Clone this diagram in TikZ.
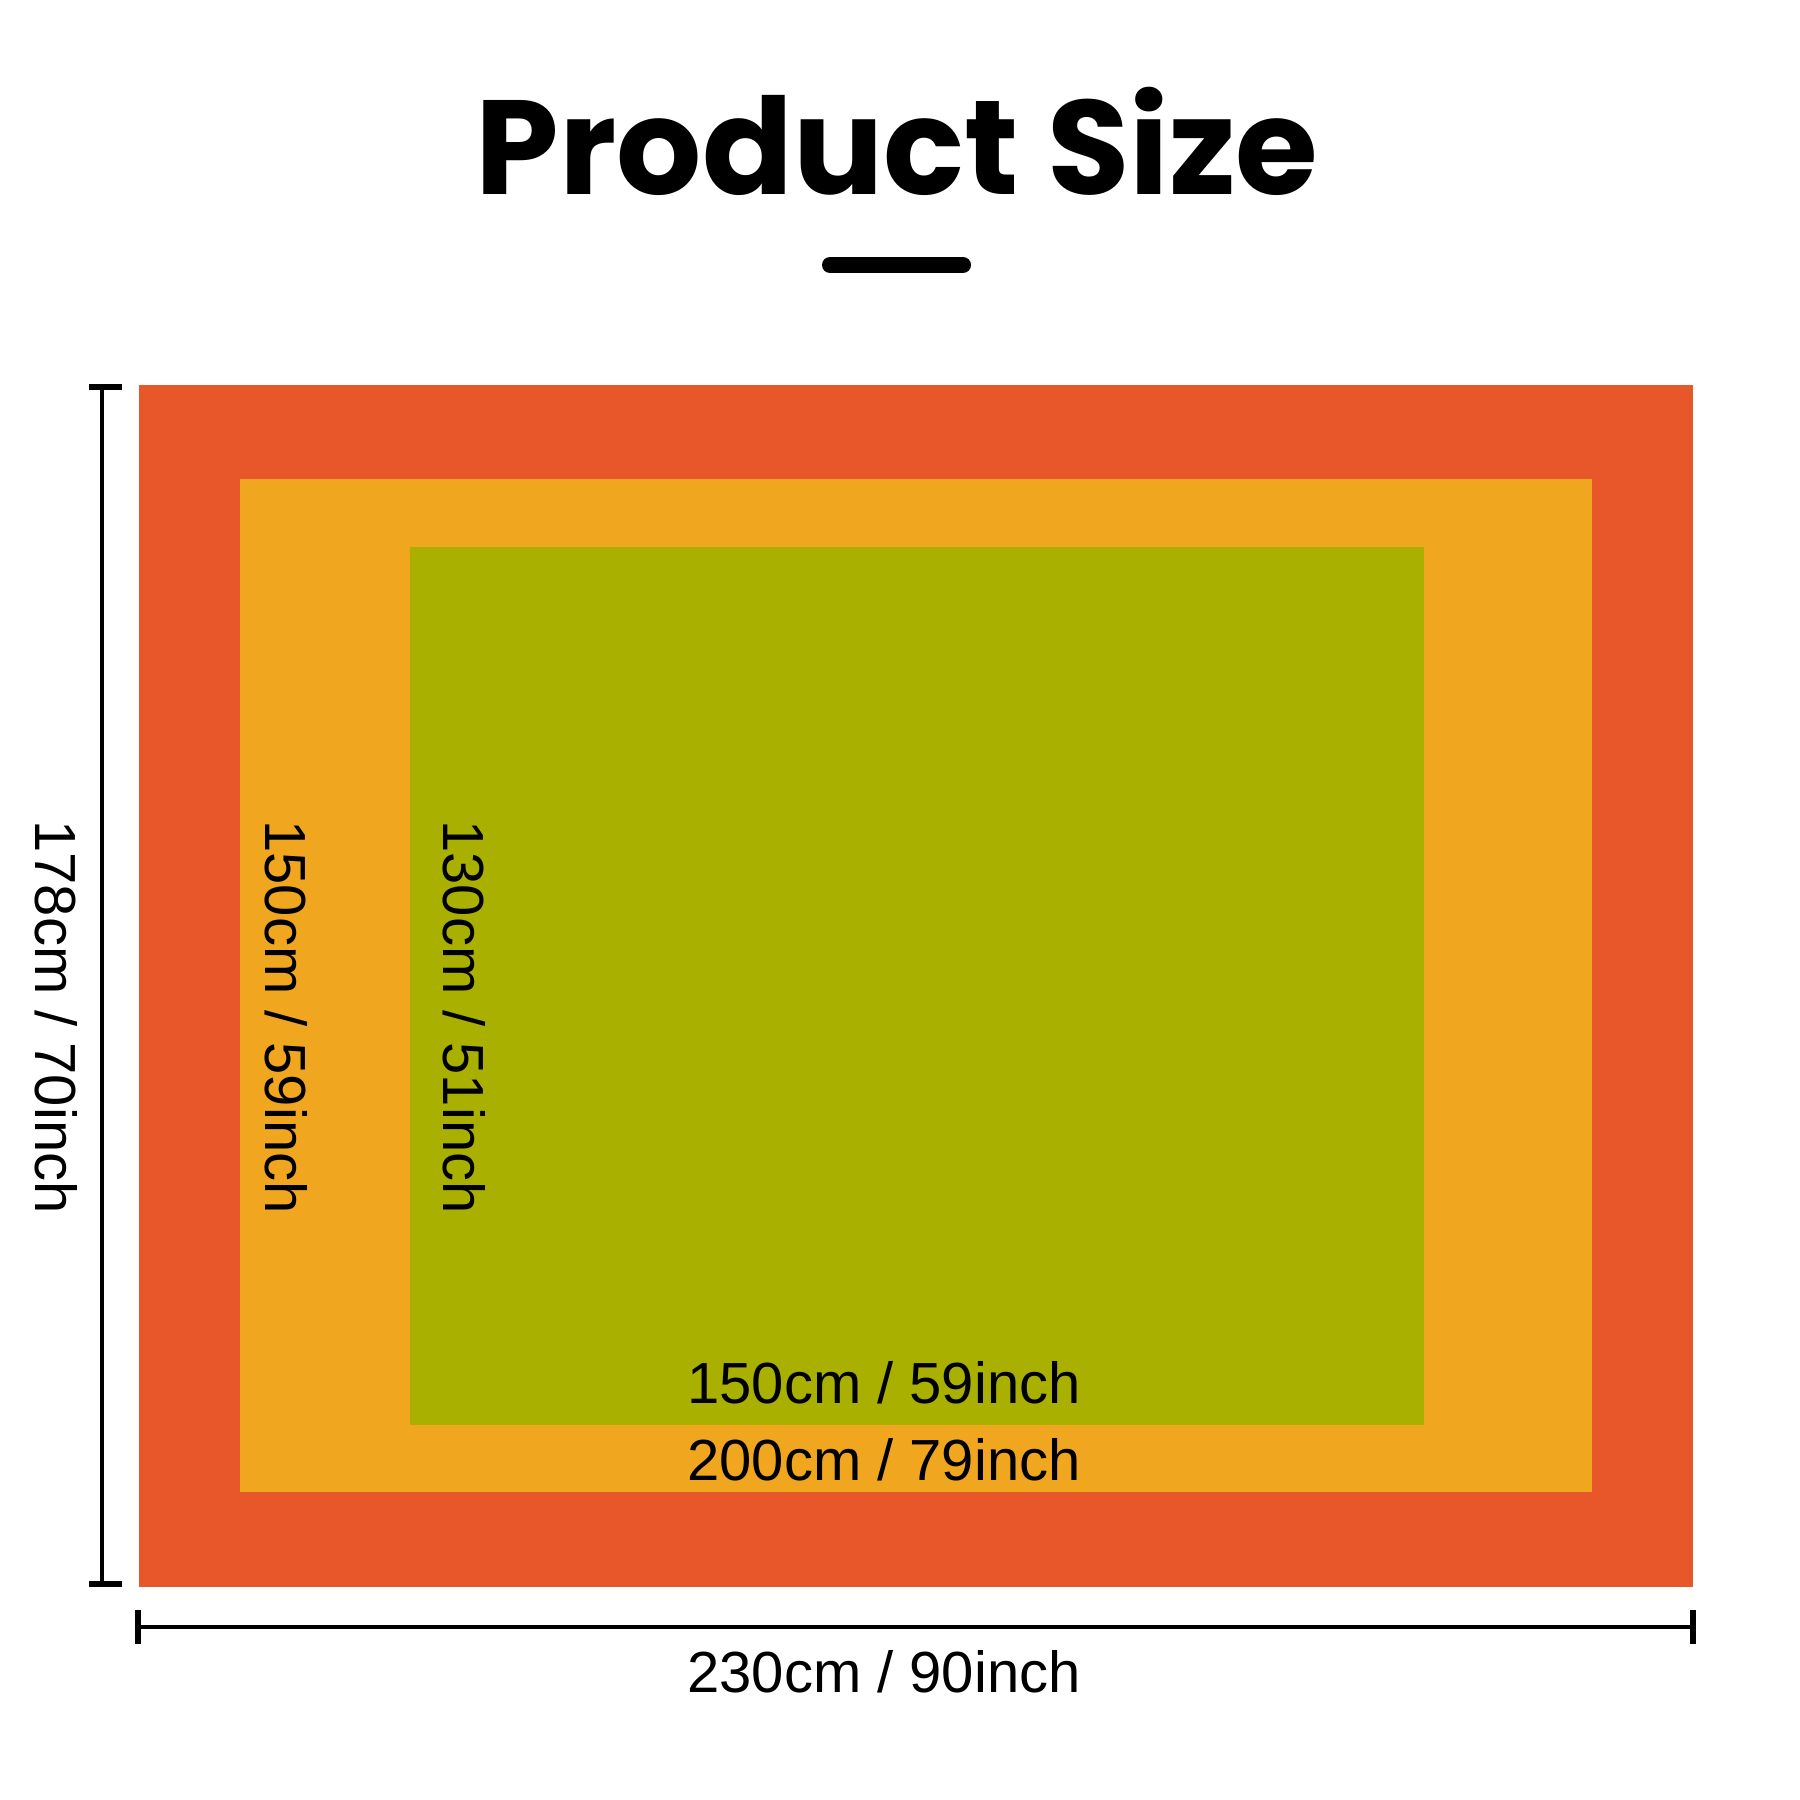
\documentclass[tikz,border=0pt]{standalone}
\usepackage{fontspec}
\setmainfont{Liberation Sans}
\newfontfamily\titlefont{Poppins}
\definecolor{redc}{RGB}{232,87,41}
\definecolor{orangec}{RGB}{240,166,30}
\definecolor{greenc}{RGB}{169,176,0}
\begin{document}
\begin{tikzpicture}[x=1pt,y=-1pt,
  dimtext/.style={inner sep=0pt,anchor=base,font=\fontsize{58}{60}\selectfont,text=black},
  dimline/.style={line width=4pt,black},
  dimtick/.style={line width=6pt,black}]
\useasboundingbox[fill=white] (0,0) rectangle (1800,1800);
% title
\node[inner sep=0pt,anchor=base,font=\titlefont\bfseries\fontsize{134}{140}\selectfont] (title) at (897,194) {Product Size};
\draw[line width=16pt,line cap=round] (830,265) coordinate (barL) -- (963,265) coordinate (barR);
% rectangles
\fill[redc] (139,385) rectangle (1693,1587);
\fill[orangec] (240,479) rectangle (1592,1492);
\fill[greenc] (410,547) rectangle (1424,1425);
% left dimension
\coordinate (lt) at (102,384);
\coordinate (lb) at (102,1587);
\draw[dimline] (lt) -- (lb);
\draw[dimtick] (89,387) -- (122,387);
\draw[dimtick] (89,1584) -- (122,1584);
% bottom dimension
\coordinate (bl) at (138,1627);
\coordinate (br) at (1693,1627);
\draw[dimline] (bl) -- (br);
\draw[dimtick] (138,1610) -- (138,1644);
\draw[dimtick] (1693,1610) -- (1693,1644);
% labels
\node[dimtext,rotate=-90] (h178) at (35,1017) {178cm / 70inch};
\node[dimtext,rotate=-90] (h150) at (265,1017) {150cm / 59inch};
\node[dimtext,rotate=-90] (h130) at (443,1017) {130cm / 51inch};
\node[dimtext] (w150) at (884,1403) {150cm / 59inch};
\node[dimtext] (w200) at (884,1480) {200cm / 79inch};
\node[dimtext] (w230) at (884,1692) {230cm / 90inch};
\end{tikzpicture}
\end{document}
